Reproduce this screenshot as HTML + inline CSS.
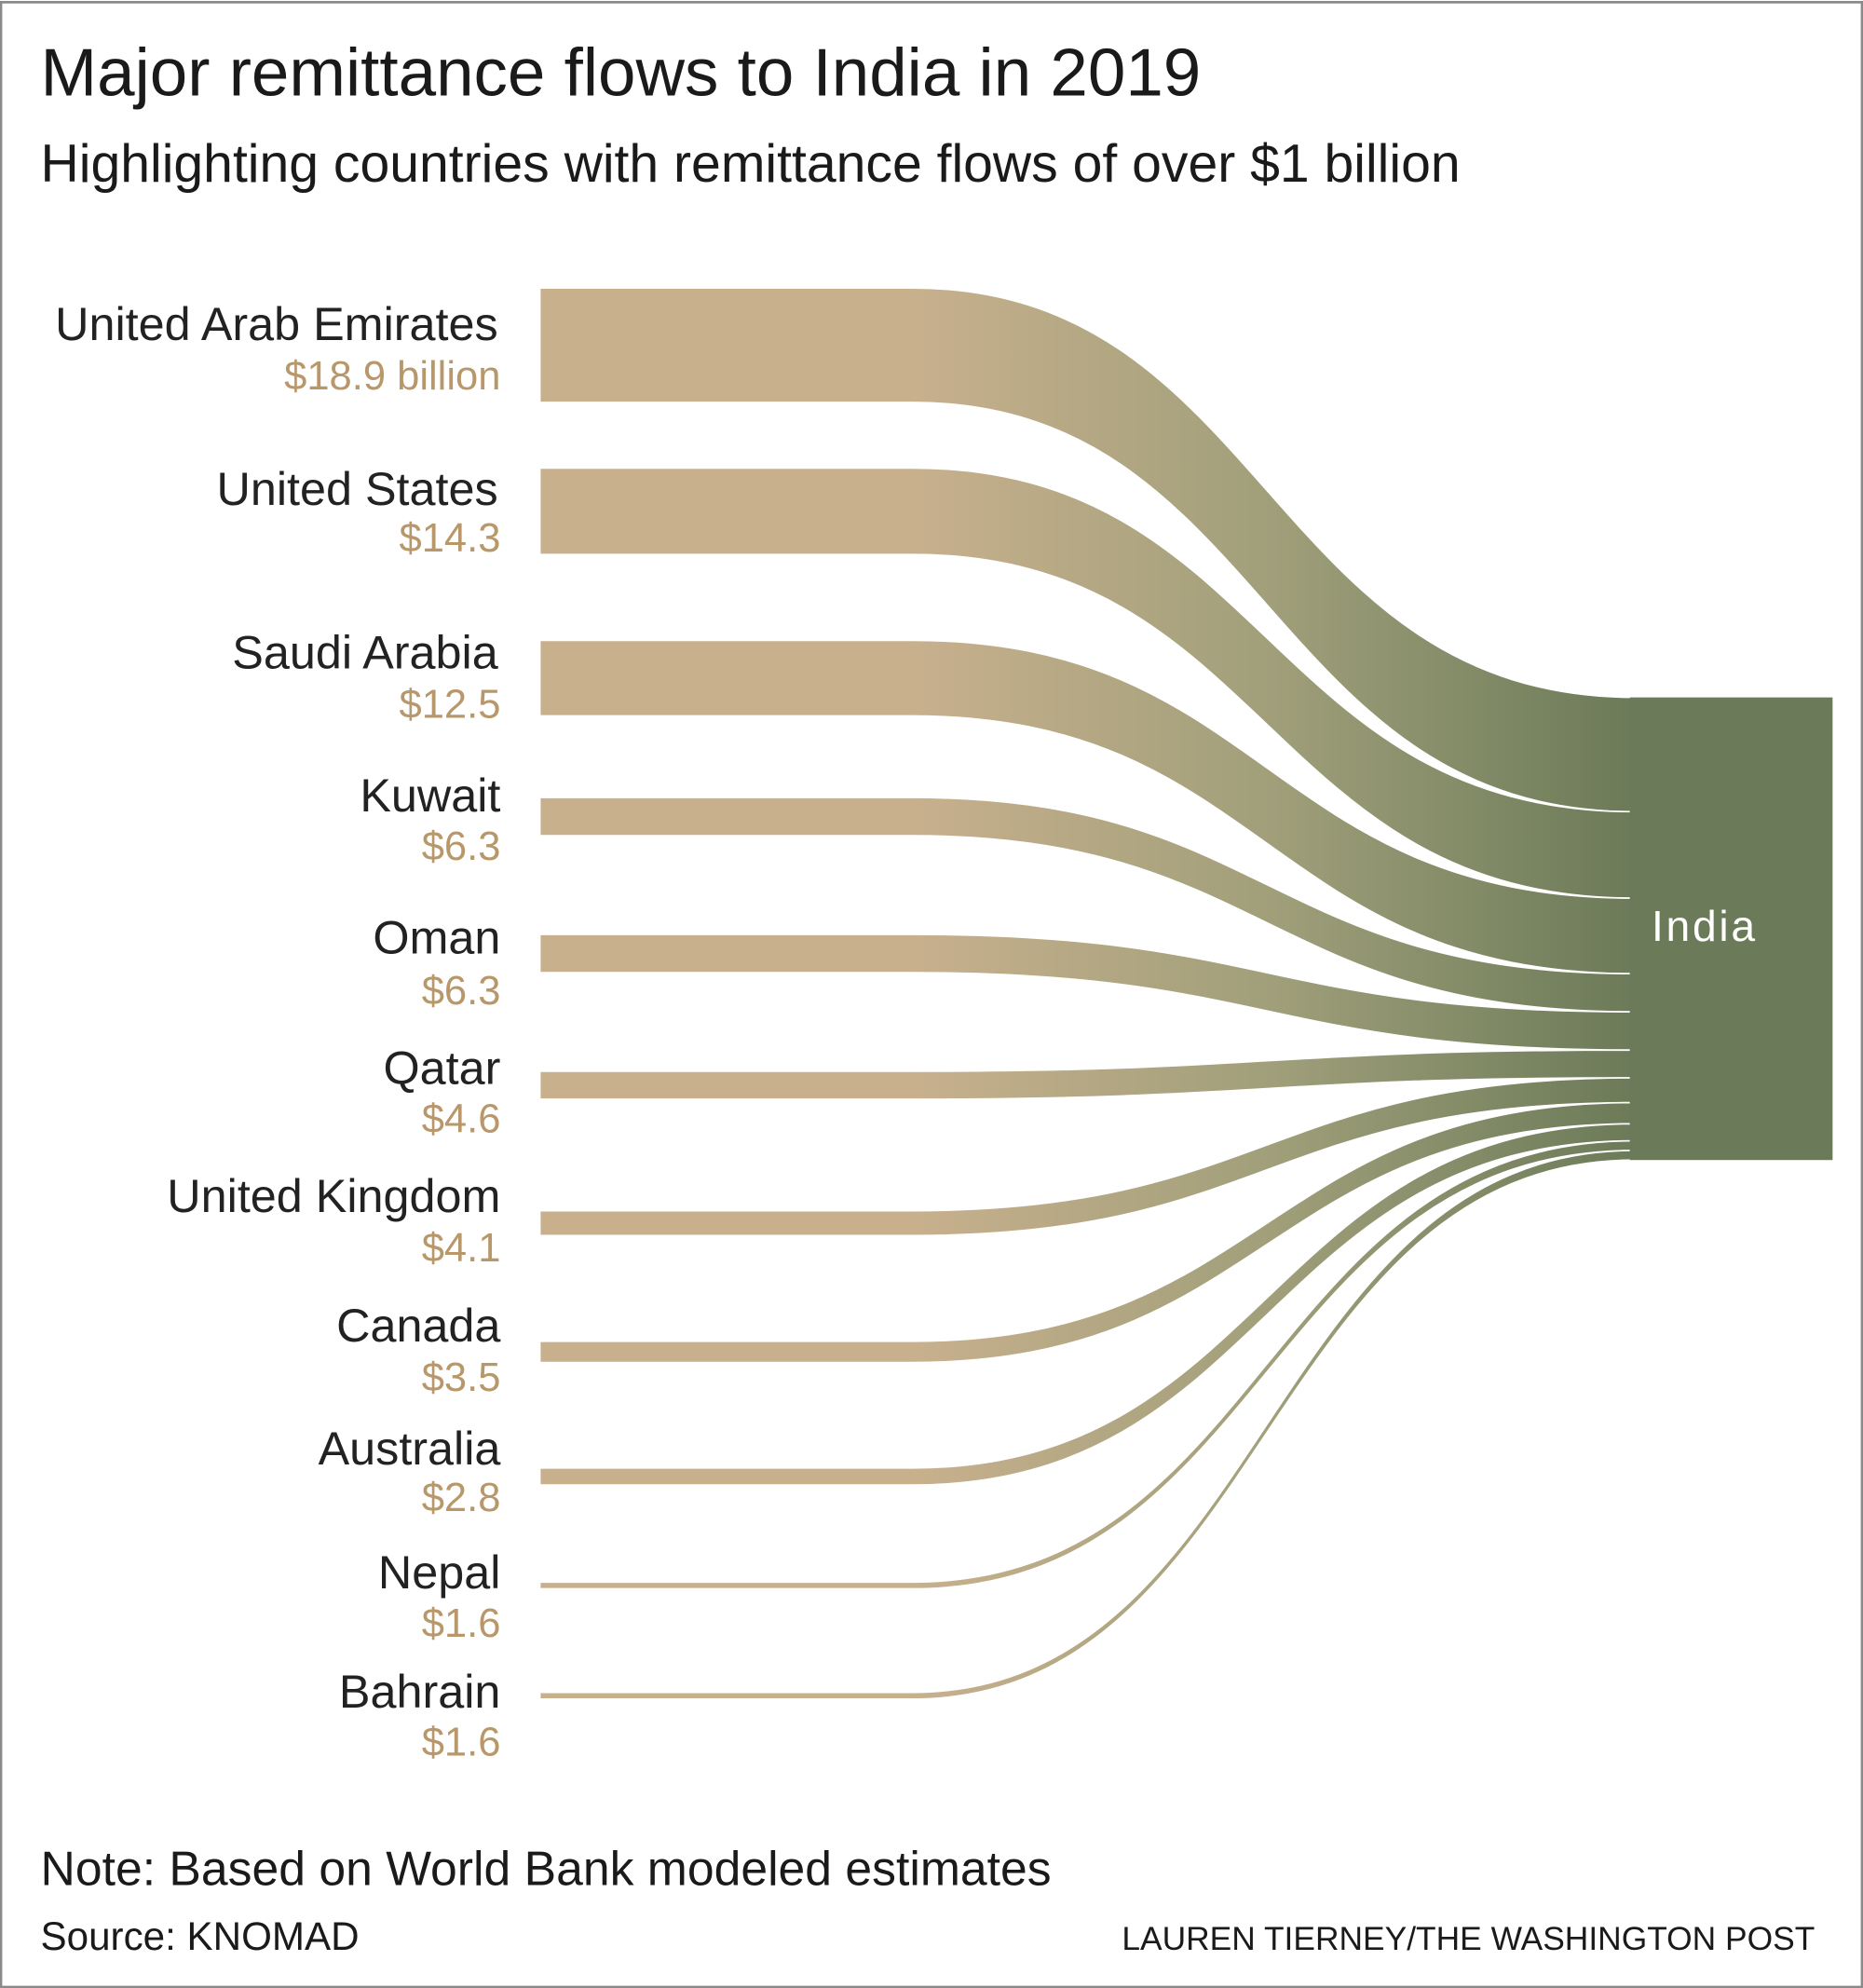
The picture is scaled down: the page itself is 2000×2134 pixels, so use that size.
<!DOCTYPE html>
<html><head><meta charset="utf-8"><style>
html,body{margin:0;padding:0;background:#fff}
svg{display:block}
text{font-family:"Liberation Sans",sans-serif}
</style></head><body>
<svg width="2000" height="2134" viewBox="0 0 1470 1568" xmlns="http://www.w3.org/2000/svg">
<defs>
<linearGradient id="g" gradientUnits="userSpaceOnUse" x1="720" y1="0" x2="1290" y2="0">
<stop offset="0" stop-color="#c8b08d"/>
<stop offset="0.5" stop-color="#a09f7a"/>
<stop offset="1" stop-color="#6b7a58"/>
</linearGradient>
</defs>
<rect x="0" y="0" width="1470" height="1568" fill="#fff"/>
<rect x="0.75" y="1.5" width="1468.5" height="1566" fill="none" stroke="#8a8a8a" stroke-width="2"/>
<text x="32" y="75" font-size="53.5" fill="#1a1a1a">Major remittance flows to India in 2019</text>
<text x="32" y="143" font-size="42" fill="#1a1a1a">Highlighting countries with remittance flows of over $1 billion</text>
<g fill="url(#g)" stroke="#fff" stroke-width="1.2">
<path d="M426,227 L720,227 C1000,227 1000,550 1290,550 L1290,640.2 C1000,640.2 1000,317.2 720,317.2 L426,317.2 Z"/>
<path d="M426,369 L720,369 C1000,369 1000,640.2 1290,640.2 L1290,708.4 C1000,708.4 1000,437.2 720,437.2 L426,437.2 Z"/>
<path d="M426,505 L720,505 C1000,505 1000,708.4 1290,708.4 L1290,768 C1000,768 1000,564.6 720,564.6 L426,564.6 Z"/>
<path d="M426,629 L720,629 C1000,629 1000,768 1290,768 L1290,798.1 C1000,798.1 1000,659.1 720,659.1 L426,659.1 Z"/>
<path d="M426,737 L720,737 C1000,737 1000,798.1 1290,798.1 L1290,828.2 C1000,828.2 1000,767.1 720,767.1 L426,767.1 Z"/>
<path d="M426,845 L720,845 C1000,845 1000,828.2 1290,828.2 L1290,850.1 C1000,850.1 1000,867 720,867 L426,867 Z"/>
<path d="M426,955 L720,955 C1000,955 1000,850.1 1290,850.1 L1290,869.7 C1000,869.7 1000,974.6 720,974.6 L426,974.6 Z"/>
<path d="M426,1058 L720,1058 C1000,1058 1000,869.7 1290,869.7 L1290,886.4 C1000,886.4 1000,1074.7 720,1074.7 L426,1074.7 Z"/>
<path d="M426,1158 L720,1158 C1000,1158 1000,886.4 1290,886.4 L1290,899.8 C1000,899.8 1000,1171.4 720,1171.4 L426,1171.4 Z"/>
<path d="M426,1248 L720,1248 C1000,1248 1000,899.8 1290,899.8 L1290,907.4 C1000,907.4 1000,1253.3 720,1253.3 L426,1253.3 Z"/>
<path d="M426,1335 L720,1335 C1000,1335 1000,907.4 1290,907.4 L1290,915 C1000,915 1000,1340.3 720,1340.3 L426,1340.3 Z"/>
</g>
<rect x="1286" y="550" width="160" height="365" fill="#6b7a58"/>
<text x="1345" y="742" font-size="34" fill="#fff" text-anchor="middle" letter-spacing="2">India</text>
<g font-size="37" fill="#222" text-anchor="end">
<text x="393" y="268">United Arab Emirates</text>
<text x="393" y="398">United States</text>
<text x="393" y="527">Saudi Arabia</text>
<text x="395" y="640">Kuwait</text>
<text x="395" y="752">Oman</text>
<text x="395" y="855">Qatar</text>
<text x="395" y="956">United Kingdom</text>
<text x="395" y="1058">Canada</text>
<text x="395" y="1155">Australia</text>
<text x="395" y="1253">Nepal</text>
<text x="395" y="1347">Bahrain</text>
</g>
<g font-size="32" fill="#b8976b" text-anchor="end">
<text x="395" y="307">$18.9 billion</text>
<text x="395" y="435">$14.3</text>
<text x="395" y="566">$12.5</text>
<text x="395" y="678">$6.3</text>
<text x="395" y="792">$6.3</text>
<text x="395" y="893">$4.6</text>
<text x="395" y="995">$4.1</text>
<text x="395" y="1097">$3.5</text>
<text x="395" y="1192">$2.8</text>
<text x="395" y="1291">$1.6</text>
<text x="395" y="1385">$1.6</text>
</g>
<text x="32" y="1487" font-size="38" fill="#1a1a1a">Note: Based on World Bank modeled estimates</text>
<text x="32" y="1538" font-size="31" fill="#1a1a1a">Source: KNOMAD</text>
<text x="1432" y="1538" font-size="26" fill="#1a1a1a" text-anchor="end">LAUREN TIERNEY/THE WASHINGTON POST</text>
</svg>
</body></html>
